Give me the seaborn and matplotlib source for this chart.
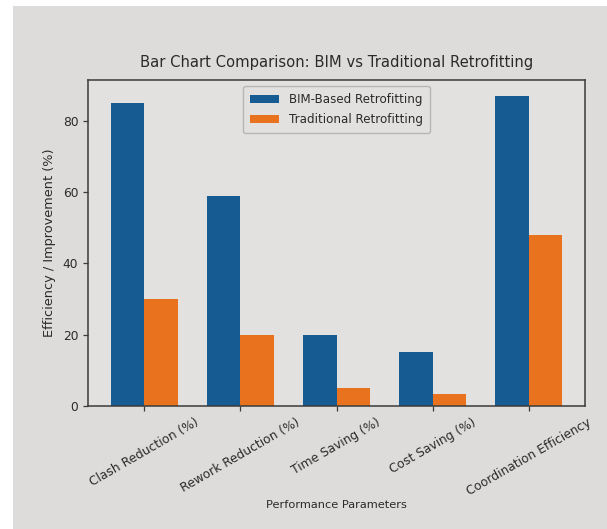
import matplotlib
matplotlib.use("Agg")
import matplotlib.pyplot as plt
from matplotlib.patches import Rectangle
import seaborn as sns
import pandas as pd

# Performance parameters and efficiency / improvement values (%)
categories = ["Clash Reduction (%)", "Rework Reduction (%)", "Time Saving (%)",
              "Cost Saving (%)", "Coordination Efficiency"]
bim_values = [85, 59, 20, 15, 87]
traditional_values = [30, 20, 5, 3.5, 48]
series_names = ["BIM-Based Retrofitting", "Traditional Retrofitting"]
colors = ["#165c93", "#e8721e"]

df = pd.DataFrame({
    "Parameter": categories * 2,
    "Value": bim_values + traditional_values,
    "Method": [series_names[0]] * len(categories) + [series_names[1]] * len(categories),
})

sns.set_theme(style="white")
plt.rcParams["font.family"] = ["DejaVu Sans"]

paper = "#dedcdb"
fig = plt.figure(figsize=(6.07, 5.29), dpi=100, facecolor=paper)
# white margins along the left and top edges of the sheet
fig.patches.append(Rectangle((0, 0), 13 / 607, 1, transform=fig.transFigure,
                             facecolor="white", edgecolor="none"))
fig.patches.append(Rectangle((0, 1 - 6 / 529), 1, 6 / 529, transform=fig.transFigure,
                             facecolor="white", edgecolor="none"))
ax = fig.add_axes([88 / 607, 1 - 406 / 529, (585 - 88) / 607, (406 - 80) / 529])
ax.set_facecolor("#e3e1e0")

sns.barplot(data=df, x="Parameter", y="Value", hue="Method", palette=colors,
            width=0.7, saturation=1, ax=ax, errorbar=None, edgecolor="none")

ax.set_xlim(-0.585, len(categories) - 1 + 0.585)
ax.set_ylim(0, 91.4)
ax.set_yticks([0, 20, 40, 60, 80])

for side in ax.spines.values():
    side.set_color("#3a3a3a")
    side.set_linewidth(1.1)
ax.tick_params(axis="both", which="both", length=3.5, width=0.9, color="#3a3a3a",
               labelsize=8.8, labelcolor="#2a2a2a", bottom=True, left=True)
plt.setp(ax.get_xticklabels(), rotation=30, ha="center")

ax.set_title("Bar Chart Comparison: BIM vs Traditional Retrofitting",
             fontsize=10.6, color="#2a2a2a", pad=9)
ax.set_xlabel("Performance Parameters", fontsize=8.2, color="#2a2a2a", labelpad=2)
ax.set_ylabel("Efficiency / Improvement (%)", fontsize=9.3, color="#2a2a2a", labelpad=5)

leg = ax.legend(loc="upper center", fontsize=8.6, frameon=True, facecolor="#e3e1e0",
                edgecolor="#b8b6b5", framealpha=1, handlelength=2.4,
                borderpad=0.6, labelspacing=0.6)
for t in leg.get_texts():
    t.set_color("#2a2a2a")

fig.savefig("out.png", dpi=100, facecolor=fig.get_facecolor())
